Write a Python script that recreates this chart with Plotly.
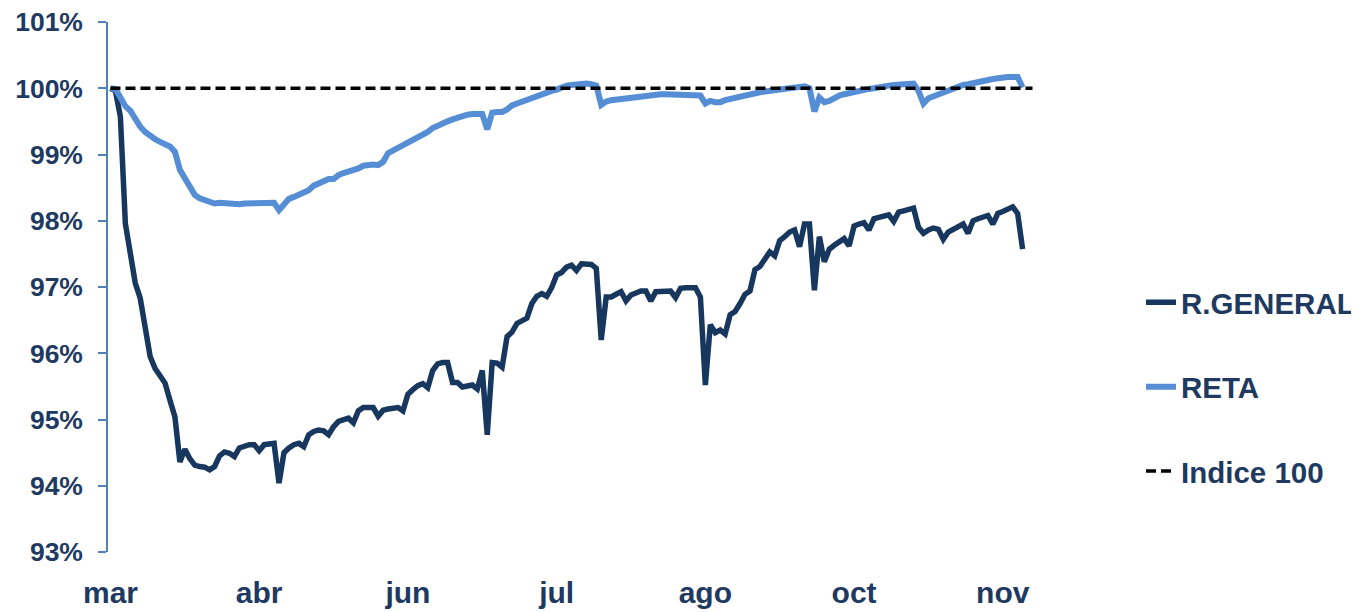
import plotly.graph_objects as go

tick_labels = ["mar", "abr", "jun", "jul", "ago", "oct", "nov"]
tick_positions = [0, 30, 60, 90, 120, 150, 180]

r_general = [
    100.00, 99.96, 99.57, 97.96, 97.51, 97.06, 96.83, 96.35, 95.95, 95.77,
    95.67, 95.55, 95.29, 95.04, 94.36, 94.55, 94.41, 94.31, 94.29, 94.28,
    94.24, 94.29, 94.45, 94.51, 94.49, 94.44, 94.57, 94.60, 94.62, 94.62,
    94.53, 94.62, 94.64, 94.64, 94.04, 94.50, 94.57, 94.62, 94.64, 94.59,
    94.77, 94.82, 94.84, 94.83, 94.77, 94.89, 94.97, 95.00, 95.02, 94.95,
    95.13, 95.18, 95.19, 95.18, 95.05, 95.14, 95.16, 95.16, 95.18, 95.13,
    95.38, 95.45, 95.51, 95.54, 95.48, 95.74, 95.84, 95.86, 95.86, 95.56,
    95.56, 95.49, 95.50, 95.52, 95.46, 95.74, 94.77, 95.86, 95.85, 95.79,
    96.25, 96.32, 96.45, 96.48, 96.53, 96.75, 96.86, 96.90, 96.86, 96.99,
    97.18, 97.22, 97.30, 97.33, 97.25, 97.35, 97.35, 97.34, 97.28, 96.20,
    96.85, 96.85, 96.89, 96.93, 96.79, 96.88, 96.91, 96.94, 96.94, 96.79,
    96.93, 96.94, 96.94, 96.94, 96.84, 96.98, 96.99, 97.00, 96.99, 96.85,
    95.52, 96.43, 96.31, 96.35, 96.29, 96.58, 96.63, 96.75, 96.89, 96.94,
    97.26, 97.31, 97.42, 97.53, 97.47, 97.70, 97.76, 97.83, 97.86, 97.61,
    97.95, 97.95, 96.95, 97.76, 97.38, 97.57, 97.63, 97.68, 97.73, 97.62,
    97.92, 97.95, 97.97, 97.86, 98.03, 98.05, 98.06, 98.09, 97.99, 98.13,
    98.15, 98.17, 98.19, 97.90, 97.81, 97.86, 97.89, 97.87, 97.72, 97.83,
    97.87, 97.91, 97.95, 97.81, 98.00, 98.03, 98.05, 98.08, 97.95, 98.11,
    98.14, 98.18, 98.21, 98.11, 97.57,
]

reta = [
    100.00, 99.99, 99.86, 99.73, 99.66, 99.53, 99.42, 99.34, 99.27, 99.23,
    99.19, 99.16, 99.12, 99.04, 98.77, 98.64, 98.51, 98.39, 98.34, 98.31,
    98.29, 98.26, 98.27, 98.26, 98.26, 98.25, 98.25, 98.26, 98.26, 98.26,
    98.26, 98.27, 98.27, 98.27, 98.16, 98.26, 98.33, 98.36, 98.39, 98.41,
    98.46, 98.53, 98.57, 98.59, 98.63, 98.63, 98.69, 98.72, 98.74, 98.77,
    98.79, 98.83, 98.85, 98.85, 98.84, 98.89, 99.02, 99.06, 99.09, 99.14,
    99.18, 99.23, 99.27, 99.30, 99.34, 99.40, 99.44, 99.47, 99.50, 99.53,
    99.56, 99.59, 99.60, 99.61, 99.62, 99.61, 99.38, 99.63, 99.64, 99.64,
    99.68, 99.74, 99.77, 99.80, 99.82, 99.85, 99.88, 99.91, 99.94, 99.96,
    99.98, 100.02, 100.04, 100.05, 100.06, 100.06, 100.07, 100.06, 100.04, 99.75,
    99.80, 99.82, 99.83, 99.84, 99.86, 99.87, 99.88, 99.89, 99.90, 99.90,
    99.91, 99.91, 99.91, 99.91, 99.91, 99.91, 99.91, 99.91, 99.91, 99.89,
    99.77, 99.81, 99.79, 99.79, 99.82, 99.84, 99.86, 99.87, 99.89, 99.91,
    99.92, 99.94, 99.95, 99.96, 99.97, 99.99, 100.01, 100.02, 100.03, 100.03,
    100.03, 100.00, 99.65, 99.86, 99.79, 99.81, 99.86, 99.89, 99.91, 99.93,
    99.94, 99.95, 99.97, 99.99, 100.00, 100.02, 100.03, 100.04, 100.05, 100.06,
    100.07, 100.07, 100.07, 99.96, 99.77, 99.85, 99.88, 99.91, 99.94, 99.97,
    100.01, 100.03, 100.05, 100.06, 100.08, 100.10, 100.12, 100.13, 100.14, 100.15,
    100.17, 100.17, 100.17, 100.17, 100.01,
]

# reference line spans two more categories than the two series
indice_100 = [100.0] * (len(r_general) + 2)

DARK = "#17375E"
LIGHT = "#558ED5"
TEXT = "#1F3A60"
AXIS = "#4F81BD"
FONT = "Liberation Sans"

n_cat = len(indice_100)

fig = go.Figure()
fig.add_trace(go.Scatter(
    x=list(range(len(r_general))), y=r_general, mode="lines", name="R.GENERAL",
    line=dict(color=DARK, width=5.5), legendgroup="a",
))
fig.add_trace(go.Scatter(
    x=list(range(len(reta))), y=reta, mode="lines", name="RETA",
    line=dict(color=LIGHT, width=6), legendgroup="b",
))
fig.add_trace(go.Scatter(
    x=list(range(n_cat)), y=indice_100, mode="lines", name="Indice 100",
    line=dict(color="black", width=3.5, dash="10px,5px"), legendgroup="c",
))

W, H = 1359, 612
ML, MR, MT, MB = 100, 332, 14, 68
fig.update_layout(
    width=W, height=H,
    paper_bgcolor="white", plot_bgcolor="white",
    margin=dict(l=ML, r=MR, t=MT, b=MB, autoexpand=False),
    font=dict(family=FONT, color=TEXT),
    showlegend=True,
    legend=dict(
        x=(1133 - ML) / (W - ML - MR), xanchor="left",
        y=0.311, yanchor="middle",
        font=dict(family=FONT, size=29.5, color=TEXT, weight="bold"),
        tracegroupgap=43, bgcolor="rgba(0,0,0,0)",
    ),
    xaxis=dict(
        range=[-0.5, n_cat - 0.5], automargin=False,
        tickmode="array", tickvals=tick_positions, ticktext=tick_labels,
        showline=False, showgrid=False, zeroline=False, ticks="",
        tickfont=dict(family=FONT, size=30, color=TEXT, weight="bold"),
        ticklabelstandoff=20,
    ),
    yaxis=dict(
        range=[93, 101], dtick=1, tick0=93, ticksuffix="%", automargin=False,
        showline=True, linecolor=AXIS, linewidth=1.5,
        ticks="outside", ticklen=8, tickcolor=AXIS, tickwidth=1.5,
        showgrid=False, zeroline=False, ticklabeloverflow="allow",
        tickfont=dict(family=FONT, size=26.5, color=TEXT, weight="bold"),
        ticklabelstandoff=10,
    ),
)

fig.write_html("out.html")
